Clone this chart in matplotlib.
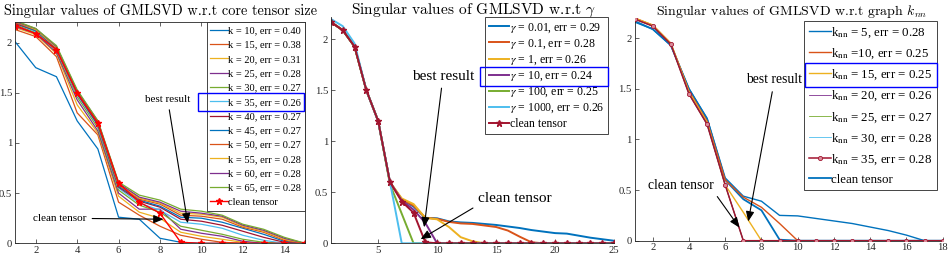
import matplotlib
matplotlib.use("Agg")
import matplotlib.pyplot as plt
from matplotlib.patches import Rectangle
from matplotlib.transforms import IdentityTransform

# -----------------------------
# DATA
# -----------------------------
# panel 1: core tensor size
x1 = list(range(1, 16))
k_labels = ["k = 10, err = 0.40", "k = 15, err = 0.38", "k = 20, err = 0.31",
            "k = 25, err = 0.28", "k = 30, err = 0.27", "k = 35, err = 0.26",
            "k = 40, err = 0.27", "k = 45, err = 0.27", "k = 50, err = 0.27",
            "k = 55, err = 0.28", "k = 60, err = 0.28", "k = 65, err = 0.28"]
k10 = [2.01, 1.75, 1.66, 1.22, 0.94, 0.26, 0.24, 0.05, 0.01, 0, 0, 0, 0, 0, 0]
k15 = [2.13, 2.06, 1.86, 1.30, 1.08, 0.41, 0.28, 0.17, 0.08, 0.04, 0.01, 0, 0, 0, 0]
k20 = [2.15, 2.08, 1.89, 1.38, 1.10, 0.47, 0.31, 0.25, 0.11, 0.07, 0.04, 0.01, 0, 0, 0]
k25 = [2.16, 2.09, 1.90, 1.43, 1.12, 0.50, 0.34, 0.34, 0.14, 0.10, 0.07, 0.02, 0, 0, 0]
k30 = [2.18, 2.10, 1.92, 1.46, 1.15, 0.53, 0.38, 0.31, 0.17, 0.13, 0.09, 0.04, 0.01, 0, 0]
k35 = [2.19, 2.11, 1.93, 1.48, 1.17, 0.55, 0.40, 0.33, 0.21, 0.19, 0.15, 0.08, 0.03, 0, 0]
k40 = [2.19, 2.12, 1.94, 1.49, 1.18, 0.56, 0.42, 0.36, 0.24, 0.22, 0.18, 0.12, 0.06, 0.01, 0]
k45 = [2.20, 2.12, 1.94, 1.50, 1.19, 0.57, 0.43, 0.37, 0.26, 0.25, 0.21, 0.15, 0.09, 0.02, 0]
k50 = [2.20, 2.13, 1.95, 1.51, 1.20, 0.58, 0.44, 0.39, 0.28, 0.27, 0.24, 0.16, 0.11, 0.03, 0]
k55 = [2.21, 2.13, 1.95, 1.51, 1.21, 0.59, 0.45, 0.40, 0.30, 0.29, 0.26, 0.17, 0.12, 0.04, 0]
k60 = [2.21, 2.14, 1.96, 1.52, 1.22, 0.60, 0.46, 0.41, 0.32, 0.30, 0.27, 0.18, 0.13, 0.05, 0]
k65 = [2.22, 2.14, 1.97, 1.53, 1.22, 0.61, 0.48, 0.43, 0.34, 0.32, 0.28, 0.19, 0.14, 0.06, 0]
clean1 = [2.17, 2.09, 1.93, 1.50, 1.20, 0.60, 0.41, 0.30, 0.01, 0, 0, 0, 0, 0, 0]

# panel 2: gamma
x2 = list(range(1, 26))
g_labels = [r"$\gamma$ = 0.01, err = 0.29", r"$\gamma$ = 0.1, err = 0.28",
            r"$\gamma$ = 1, err = 0.26", r"$\gamma$ = 10, err = 0.24",
            r"$\gamma$ = 100, err = 0.25", r"$\gamma$ = 1000, err = 0.26"]
g001 = [2.17, 2.09, 1.93, 1.50, 1.20, 0.60, 0.43, 0.36, 0.25, 0.245, 0.215, 0.205, 0.20,
        0.19, 0.18, 0.165, 0.15, 0.13, 0.115, 0.10, 0.095, 0.075, 0.055, 0.04, 0.025]
g01 = [2.17, 2.09, 1.93, 1.50, 1.20, 0.60, 0.43, 0.37, 0.25, 0.24, 0.21, 0.195, 0.19,
       0.175, 0.16, 0.125, 0.065, 0.01, 0, 0, 0, 0, 0, 0, 0]
g1 = [2.17, 2.09, 1.93, 1.50, 1.20, 0.60, 0.44, 0.385, 0.25, 0.235, 0.16, 0.06, 0.02,
      0, 0, 0, 0, 0, 0, 0, 0, 0, 0, 0, 0]
g10 = [2.17, 2.09, 1.93, 1.50, 1.20, 0.60, 0.42, 0.33, 0.20, 0, 0, 0, 0,
       0, 0, 0, 0, 0, 0, 0, 0, 0, 0, 0, 0]
g100 = [2.17, 2.09, 1.93, 1.50, 1.20, 0.58, 0.29, 0, 0, 0, 0, 0, 0,
        0, 0, 0, 0, 0, 0, 0, 0, 0, 0, 0, 0]
g1000 = [2.20, 2.13, 1.96, 1.50, 1.20, 0.60, 0, 0, 0, 0, 0, 0, 0,
         0, 0, 0, 0, 0, 0, 0, 0, 0, 0, 0, 0]
clean2 = [2.17, 2.09, 1.93, 1.50, 1.20, 0.60, 0.41, 0.30, 0.01, 0, 0, 0, 0,
          0, 0, 0, 0, 0, 0, 0, 0, 0, 0, 0, 0]

# panel 3: graph knn
x3 = list(range(1, 19))
n_labels = [r"k$_{\rm nn}$ = 5, err = 0.28", r"k$_{\rm nn}$ =10, err = 0.25",
            r"k$_{\rm nn}$ = 15, err = 0.25", r"k$_{\rm nn}$ = 20, err = 0.26",
            r"k$_{\rm nn}$ = 25, err = 0.27", r"k$_{\rm nn}$ = 30, err = 0.28",
            r"k$_{\rm nn}$ = 35, err = 0.28"]
n5 = [2.16, 2.09, 1.93, 1.50, 1.21, 0.62, 0.44, 0.39, 0.25, 0.245, 0.22, 0.195,
      0.17, 0.135, 0.10, 0.055, 0, 0]
n10 = [2.20, 2.13, 1.95, 1.48, 1.18, 0.60, 0.43, 0.33, 0.17, 0, 0, 0, 0, 0, 0, 0, 0, 0]
n15 = [2.20, 2.13, 1.95, 1.47, 1.17, 0.55, 0.28, 0, 0, 0, 0, 0, 0, 0, 0, 0, 0, 0]
n20 = [2.19, 2.12, 1.94, 1.45, 1.15, 0.55, 0, 0, 0, 0, 0, 0, 0, 0, 0, 0, 0, 0]
n25 = [2.19, 2.12, 1.94, 1.45, 1.15, 0.55, 0, 0, 0, 0, 0, 0, 0, 0, 0, 0, 0, 0]
n30 = [2.19, 2.12, 1.94, 1.45, 1.15, 0.55, 0, 0, 0, 0, 0, 0, 0, 0, 0, 0, 0, 0]
n35 = [2.19, 2.12, 1.94, 1.45, 1.15, 0.55, 0, 0, 0, 0, 0, 0, 0, 0, 0, 0, 0, 0]
clean3 = [2.17, 2.09, 1.93, 1.50, 1.20, 0.60, 0.41, 0.30, 0.01, 0, 0, 0, 0, 0, 0, 0, 0, 0]

# -----------------------------
# STYLE
# -----------------------------
plt.rcParams["font.family"] = ["Liberation Serif", "DejaVu Serif"]
plt.rcParams["mathtext.fontset"] = "stix"
MAT = ["#0072BD", "#D95319", "#EDB120", "#7E2F8E", "#77AC30", "#4DBEEE", "#A2142F"]
AX_COL = "#262626"

fig = plt.figure(figsize=(9.51, 2.58), dpi=100)
W, H = 951.0, 258.0


def make_axes(left, right, top, bottom, box):
    ax = fig.add_axes([left / W, (H - bottom) / H, (right - left) / W, (bottom - top) / H])
    for s in ax.spines.values():
        s.set_color(AX_COL)
        s.set_linewidth(0.6)
    if not box:
        ax.spines["top"].set_visible(False)
        ax.spines["right"].set_visible(False)
    ax.tick_params(direction="in", length=3, width=0.5, colors=AX_COL,
                   labelsize=7.7, pad=2, top=box, right=box)
    return ax


def legend_box(ax, labels, handles, fs, spacing, anchor):
    leg = ax.legend(handles, labels, loc="upper right", bbox_to_anchor=anchor,
                    fontsize=fs, handlelength=1.7, handletextpad=0.05,
                    labelspacing=spacing, borderpad=0.35, borderaxespad=0,
                    fancybox=False, framealpha=1)
    leg.get_frame().set_edgecolor(AX_COL)
    leg.get_frame().set_linewidth(0.6)
    return leg


ARROW = dict(arrowstyle="-|>,head_length=0.6,head_width=0.25", color="k",
             lw=0.8, mutation_scale=10, shrinkB=0)

# -----------------------------
# PANEL 1
# -----------------------------
ax1 = make_axes(15, 305, 22.5, 243.3, True)
series1 = [k10, k15, k20, k25, k30, k35, k40, k45, k50, k55, k60, k65]
h1 = []
for i, ys in enumerate(series1):
    line, = ax1.plot(x1, ys, color=MAT[i % 7], lw=0.9)
    h1.append(line)
line, = ax1.plot(x1, clean1, color="#FF0000", lw=1.0, marker="*", ms=4.5)
h1.append(line)
ax1.set_xlim(1, 15)
ax1.set_ylim(0, 2.2)
ax1.set_xticks(range(2, 15, 2))
ax1.set_yticks([0, 0.5, 1, 1.5, 2])
ax1.set_yticklabels(["0", "0.5", "1", "1.5", "2"])
leg1 = legend_box(ax1, k_labels + ["clean tensor"], h1, 7.5, 0.48, (1.0, 1.0))
ax1.annotate("best result", xy=(9.34, 0.2), xytext=(8.37, 1.43), fontsize=8,
             ha="center", va="center", arrowprops=ARROW)
ax1.annotate("clean tensor", xy=(8.17, 0.24), xytext=(3.17, 0.25), fontsize=8,
             ha="center", va="center", arrowprops=ARROW)

# -----------------------------
# PANEL 2
# -----------------------------
ax2 = make_axes(331, 614, 17, 243.3, False)
series2 = [g001, g01, g1, g10, g100, g1000]
h2 = []
for i, ys in enumerate(series2):
    line, = ax2.plot(x2, ys, color=MAT[i], lw=1.4)
    h2.append(line)
line, = ax2.plot(x2, clean2, color=MAT[6], lw=1.4, marker="*", ms=4.5)
h2.append(line)
ax2.set_xlim(1, 25)
ax2.set_ylim(0, 2.22)
ax2.set_xticks([5, 10, 15, 20, 25])
ax2.set_yticks([0, 0.5, 1, 1.5, 2])
ax2.set_yticklabels(["0", "0.5", "1", "1.5", "2"])
leg2 = legend_box(ax2, g_labels + ["clean tensor"], h2, 8.5, 0.22, (0.979, 1.0))
ax2.annotate("best result", xy=(8.9, 0.157), xytext=(10.5, 1.64), fontsize=11,
             ha="center", va="center", arrowprops=ARROW)
ax2.annotate("clean tensor", xy=(8.6, 0.04), xytext=(16.6, 0.44), fontsize=11,
             ha="center", va="center",
             arrowprops=dict(ARROW, relpos=(0.0, 0.0)))

# -----------------------------
# PANEL 3
# -----------------------------
ax3 = make_axes(634.6, 942.7, 18, 240.7, False)
series3 = [n5, n10, n15, n20, n25, n30]
h3 = []
for i, ys in enumerate(series3):
    line, = ax3.plot(x3, ys, color=MAT[i], lw=1.0 if i < 3 else 0.6, zorder=2)
    h3.append(line)
line_c, = ax3.plot(x3, clean3, color=MAT[0], lw=1.3, zorder=1.9)
line, = ax3.plot(x3, n35, color=MAT[6], lw=1.1, marker="o", ms=3,
                 mfc="#D98C9A", mec=MAT[6], mew=0.6, zorder=3)
h3.append(line)
h3.append(line_c)
ax3.set_xlim(1, 18)
ax3.set_ylim(0, 2.2)
ax3.set_xticks(range(2, 19, 2))
ax3.set_yticks([0, 0.5, 1, 1.5, 2])
ax3.set_yticklabels(["0", "0.5", "1", "1.5", "2"])
leg3 = legend_box(ax3, n_labels + ["clean tensor"], h3, 9.3, 0.52, (0.982, 0.988))
ax3.annotate("best result", xy=(7.27, 0.19), xytext=(8.72, 1.59), fontsize=9.8,
             ha="center", va="center", arrowprops=ARROW)
ax3.annotate("clean tensor", xy=(6.78, 0.13), xytext=(3.55, 0.55), fontsize=9.8,
             ha="center", va="center",
             arrowprops=dict(ARROW, relpos=(1.0, 0.0)))

# -----------------------------
# TITLES (LaTeX-like font)
# -----------------------------
fig.text(160 / W, 1 - 15 / H, "Singular values of GMLSVD w.r.t core tensor size",
         fontsize=10.3, fontfamily="cmr10", math_fontfamily="cm",
         ha="center", va="baseline")
fig.text(473.5 / W, 1 - 13.5 / H, r"Singular values of GMLSVD w.r.t $\gamma$",
         fontsize=11.1, fontfamily="cmr10", math_fontfamily="cm",
         ha="center", va="baseline")
fig.text(792 / W, 1 - 15 / H, r"Singular values of GMLSVD w.r.t graph $k_{nn}$",
         fontsize=10, fontfamily="cmr10", math_fontfamily="cm",
         ha="center", va="baseline")

# -----------------------------
# BLUE BOXES AROUND BEST ENTRY
# -----------------------------
fig.canvas.draw()
renderer = fig.canvas.get_renderer()
for leg, idx, dx0, dx1, half in [(leg1, 5, -9, -1, 9), (leg2, 3, -5, 0, 9.5),
                                 (leg3, 2, 1, 0, 12)]:
    lb = leg.get_window_extent(renderer)
    tb = leg.get_texts()[idx].get_window_extent(renderer)
    cy = (tb.y0 + tb.y1) / 2
    fig.patches.append(Rectangle((lb.x0 + dx0, cy - half), lb.width - dx0 + dx1, 2 * half,
                                 transform=IdentityTransform(), fill=False,
                                 edgecolor="#0000FF", lw=1.0, figure=fig))

fig.savefig("out.png", dpi=100)
